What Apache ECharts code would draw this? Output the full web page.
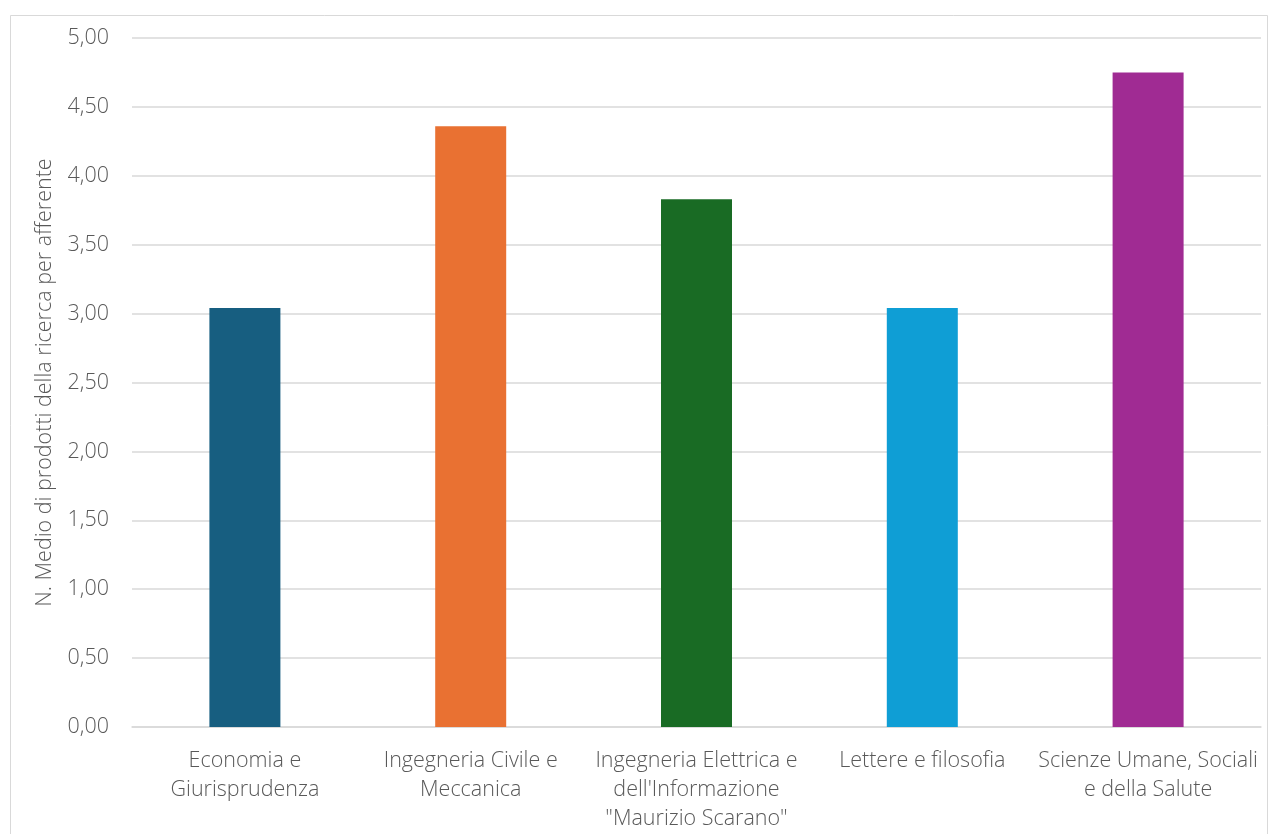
<!DOCTYPE html>
<html>
<head>
<meta charset="utf-8">
<script src="https://cdn.jsdelivr.net/npm/echarts@6/dist/echarts.min.js"></script>
<style>
  html, body { margin: 0; padding: 0; background: #fff; }
  #chart { width: 1269px; height: 834px; }
</style>
</head>
<body>
<div id="chart"></div>
<script>
// Dipartimenti e numero medio di prodotti della ricerca per afferente
const categories = [
  'Economia e\nGiurisprudenza',
  'Ingegneria Civile e\nMeccanica',
  "Ingegneria Elettrica e\ndell'Informazione\n\"Maurizio Scarano\"",
  'Lettere e filosofia',
  'Scienze Umane, Sociali\ne della Salute'
];
const values = [3.04, 4.36, 3.83, 3.04, 4.75];
const barColors = ['#175e80', '#e97132', '#196b24', '#0f9ed5', '#a02b93'];
const yAxisTitle = 'N. Medio di prodotti della ricerca per afferente';

const fontFamily = '"Open Sans", "Noto Sans", sans-serif';
const chart = echarts.init(document.getElementById('chart'), null, { renderer: 'canvas' });

chart.setOption({
  animation: false,
  backgroundColor: '#ffffff',
  graphic: [{
    type: 'rect',
    shape: { x: 10.5, y: 15.5, width: 1257, height: 830 },
    style: { fill: 'none', stroke: '#d9d9d9', lineWidth: 1 },
    silent: true
  }],
  grid: { left: 132, right: 8, top: 38, bottom: 107, containLabel: false },
  xAxis: {
    type: 'category',
    data: categories,
    axisLine: { show: true, lineStyle: { color: '#d9d9d9', width: 1.5 } },
    axisTick: { show: false },
    axisLabel: {
      color: '#595959',
      fontFamily: fontFamily,
      fontSize: 21.5,
      fontWeight: 300,
      lineHeight: 29,
      margin: 19,
      interval: 0
    }
  },
  yAxis: {
    type: 'value',
    min: 0,
    max: 5,
    interval: 0.5,
    name: yAxisTitle,
    nameLocation: 'middle',
    nameGap: 76,
    nameTextStyle: { color: '#595959', fontFamily: fontFamily, fontSize: 21.5, fontWeight: 300 },
    axisLine: { show: false },
    axisTick: { show: false },
    splitLine: { lineStyle: { color: '#d9d9d9', width: 1.5 } },
    axisLabel: {
      color: '#595959',
      fontFamily: fontFamily,
      fontSize: 21.5,
      fontWeight: 300,
      margin: 23,
      formatter: v => v.toFixed(2).replace('.', ',')
    }
  },
  series: [{
    type: 'bar',
    data: values.map((v, i) => ({ value: v, itemStyle: { color: barColors[i] } })),
    barWidth: 71
  }]
});
</script>
</body>
</html>
